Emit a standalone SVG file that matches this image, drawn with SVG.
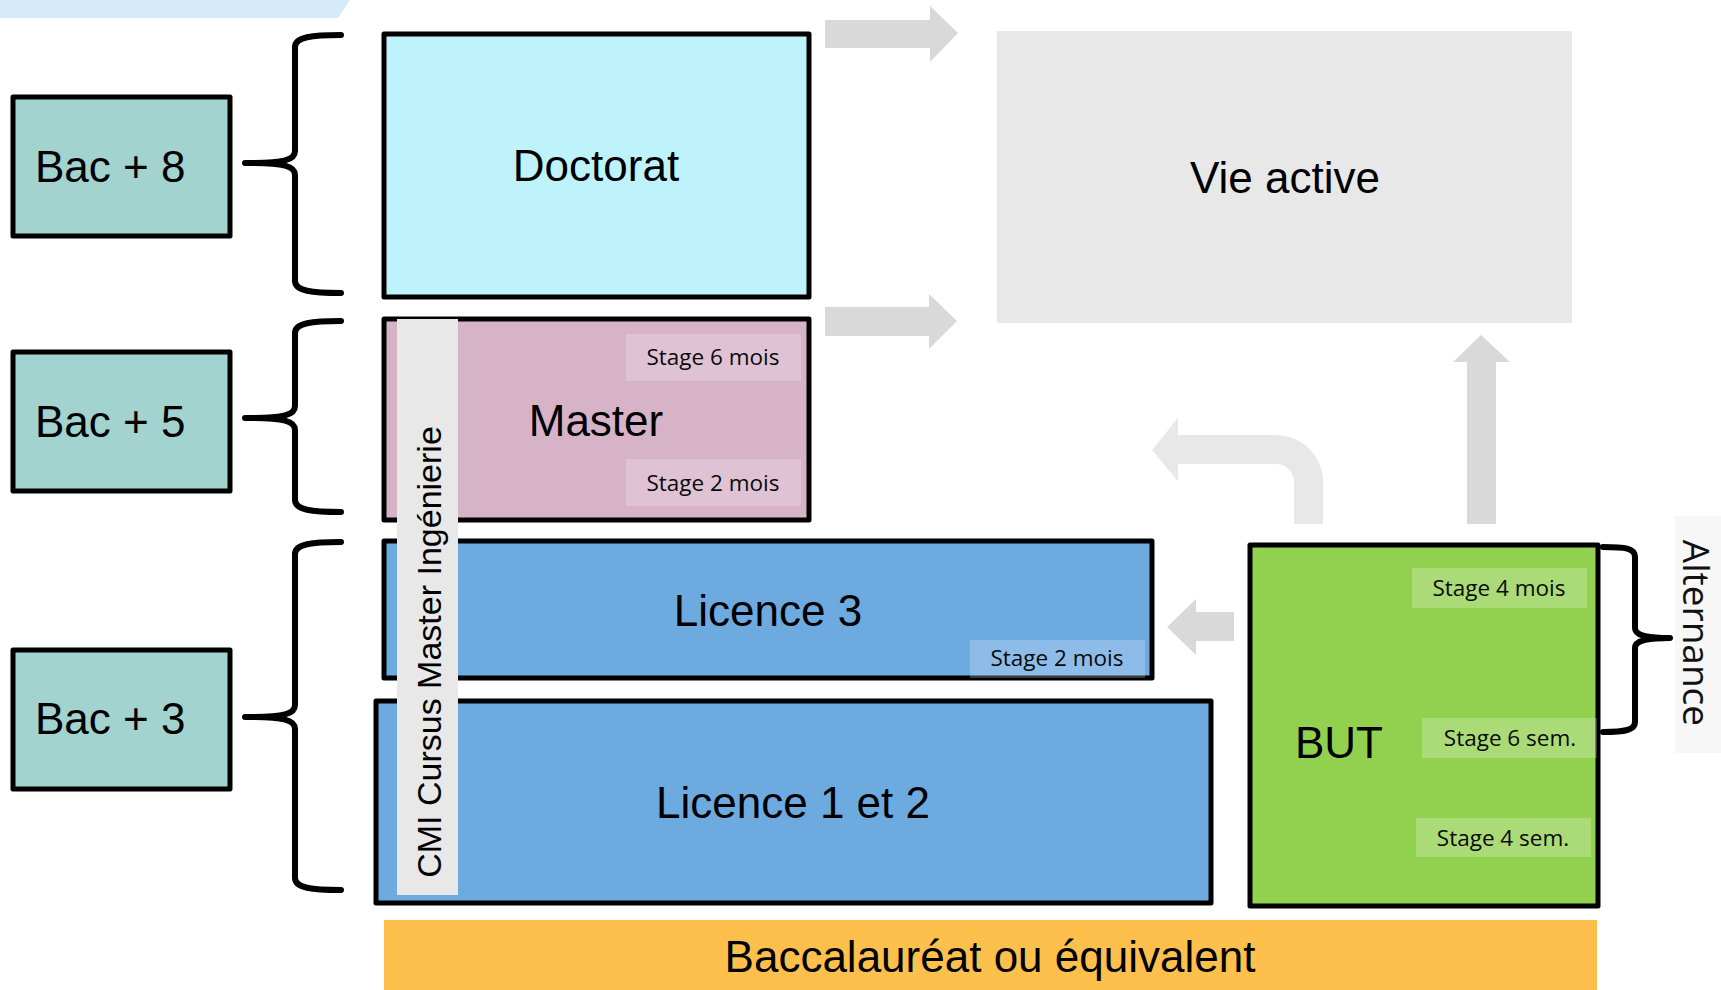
<svg xmlns="http://www.w3.org/2000/svg" width="1721" height="990" viewBox="0 0 1721 990">
<style>
.box{stroke:#000;stroke-width:5;stroke-linejoin:round}
.lvl{fill:#a2d3cf}
.big{font-family:"Liberation Sans",Arial,sans-serif;font-size:44px;fill:#000}
.stg{font-family:"Open Sans","Noto Sans",sans-serif;font-size:22.5px;fill:#0a0a0a;text-anchor:middle}
.sbg{fill:#fff;fill-opacity:0.22}
.brace{fill:none;stroke:#000;stroke-width:6;stroke-linecap:round;stroke-linejoin:round}
.arr{fill:#d9d9d9}
.arr2{fill:#e8e8e8}
.mid{text-anchor:middle}
</style>
<rect width="1721" height="990" fill="#fff"/>
<polygon points="0,0 350,0 338,18 0,18" fill="#d6ebf9"/>

<g id="bac8"><rect class="box lvl" x="13" y="97" width="217" height="139"/><text class="big" x="35" y="182">Bac + 8</text></g>
<g id="bac5"><rect class="box lvl" x="13" y="352" width="217" height="139"/><text class="big" x="35" y="437">Bac + 5</text></g>
<g id="bac3"><rect class="box lvl" x="13" y="650" width="217" height="139"/><text class="big" x="35" y="734">Bac + 3</text></g>

<g id="braces">
<path class="brace" d="M341,35 C312,35 295,37 295,47 L295,151 C295,160 285,163 245,163 C285,163 295,166 295,175 L295,281 C295,291 312,293 341,293"/>
<path class="brace" d="M341,321 C312,321 295,323 295,333 L295,406 C295,415 285,418 245,418 C285,418 295,421 295,430 L295,500 C295,510 312,512 341,512"/>
<path class="brace" d="M341,542 C312,542 295,544 295,554 L295,705 C295,714 285,717 245,717 C285,717 295,720 295,729 L295,878 C295,888 312,890 341,890"/>
</g>

<g id="doctorat"><rect class="box" x="384" y="34" width="425" height="263" fill="#bff3fc"/><text class="big mid" x="596" y="181">Doctorat</text></g>

<g id="master"><rect class="box" x="384" y="319" width="425" height="201" fill="#d7b3c8"/>
<text class="big mid" x="596" y="436">Master</text>
<rect class="sbg" x="626" y="334" width="175" height="47"/><text class="stg" x="713" y="365">Stage 6 mois</text>
<rect class="sbg" x="626" y="459" width="175" height="47"/><text class="stg" x="713" y="491">Stage 2 mois</text>
</g>

<g id="licence3"><rect class="box" x="384" y="541" width="768" height="137" fill="#6caae0"/>
<text class="big mid" x="768" y="626">Licence 3</text>
<rect class="sbg" x="970" y="640" width="175" height="38"/><text class="stg" x="1057" y="666">Stage 2 mois</text>
</g>

<g id="licence12"><rect class="box" x="376" y="701" width="835" height="202" fill="#6caae0"/><text class="big mid" x="793" y="818">Licence 1 et 2</text></g>

<g id="cmi"><rect x="397" y="319" width="61" height="576" fill="#e8e8e8"/>
<text class="big mid" style="font-size:34px" transform="translate(441,652) rotate(-90)">CMI Cursus Master Ingénierie</text></g>

<g id="but"><rect class="box" x="1250" y="545" width="348" height="361" fill="#92d150"/>
<text class="big" x="1295" y="758">BUT</text>
<rect class="sbg" x="1412" y="568" width="175" height="40"/><text class="stg" x="1499" y="596">Stage 4 mois</text>
<rect class="sbg" x="1422" y="718" width="175" height="40"/><text class="stg" x="1510" y="746">Stage 6 sem.</text>
<rect class="sbg" x="1416" y="818" width="175" height="39"/><text class="stg" x="1503" y="846">Stage 4 sem.</text>
</g>

<g id="vie"><rect x="997" y="31" width="575" height="292" fill="#e8e8e8"/><text class="big mid" x="1285" y="193">Vie active</text></g>

<g id="bac"><rect x="384" y="920" width="1213" height="70" fill="#fec04c"/><text class="big mid" x="990" y="972">Baccalauréat ou équivalent</text></g>

<g id="alternance"><rect x="1675" y="516" width="46" height="237" fill="#f7f7f7"/>
<path class="brace" d="M1603,547 C1625,547 1635,548 1635,557 L1635,628 C1635,635 1645,638 1670,638 C1645,638 1635,641 1635,648 L1635,722 C1635,730 1625,732 1603,732"/>
<text x="1683" y="633" text-anchor="middle" transform="rotate(90 1683 633)" font-family="Open Sans, sans-serif" font-size="37" fill="#111">Alternance</text>
</g>

<g id="connectors">
<polygon class="arr" points="825,20 930,20 930,6 958,33 930,62 930,48 825,48"/>
<polygon class="arr" points="825,307 929,307 929,294 957,321 929,349 929,336 825,336"/>
<polygon class="arr" points="1467,524 1467,362 1453,362 1481,335 1510,362 1496,362 1496,524"/>
<path class="arr2" d="M1323,524 L1323,482 A47,47 0 0 0 1276,435 L1178,435 L1178,418 L1152,450 L1178,481 L1178,464 L1276,464 A18,18 0 0 1 1294,482 L1294,524 Z"/>
<polygon class="arr" points="1234,612 1196,612 1196,599 1167,627 1196,655 1196,641 1234,641"/>
</g>
</svg>
